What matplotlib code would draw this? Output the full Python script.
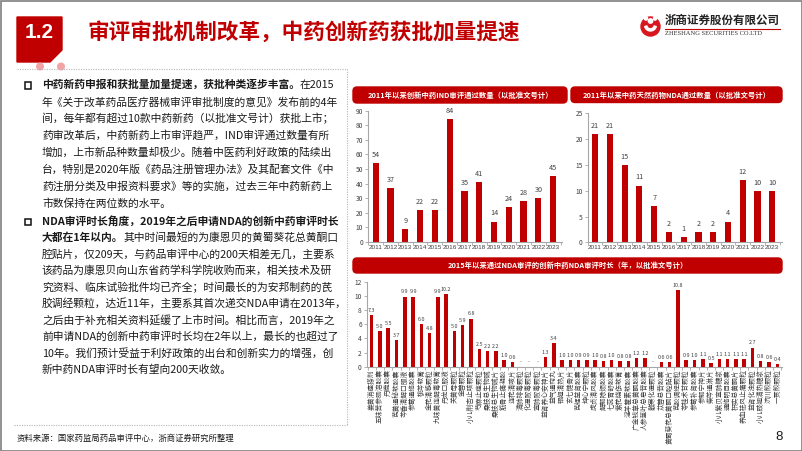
import numpy as np
import matplotlib
matplotlib.use("Agg")
import matplotlib.pyplot as plt
from matplotlib.patches import Rectangle, Polygon, FancyBboxPatch, Circle, Wedge

plt.rcParams['font.family'] = ['Noto Sans CJK SC', 'DejaVu Sans']

RED = '#C00000'
TXT = '#1a1a1a'
GREY = '#404040'

# --- data ---
years = [str(y) for y in range(2011, 2024)]
ind_counts = [54, 37, 9, 22, 22, 84, 35, 41, 14, 24, 28, 30, 45]
nda_counts = [21, 21, 15, 11, 7, 2, 1, 2, 2, 4, 12, 10, 10]

drug_names = [
    '姜黄消痤搽剂', '五味苦参肠溶胶囊', '丹鹿胶囊', '芪黄通秘软胶囊', '芩香清解口服液',
    '参葛通络胶囊', '桃芩软膏', '金花清感颗粒', '九味黄连解毒软膏', '丹龙口服液',
    '关黄母颗粒', '金蓉颗粒', '小儿荆杏止咳颗粒', '芍麻止痉颗粒', '桑枝总生物碱',
    '桑枝总生物碱片', '筋骨止痛凝胶', '连花清咳片', '清肺排毒颗粒', '化湿败毒颗粒',
    '宣肺败毒颗粒', '益肾养心安神片', '益气通窍丸', '银翘清热片', '玄七健骨片',
    '芪蛭益肾胶囊', '坤心宁颗粒', '虎贞清风胶囊', '解郁除烦胶囊', '七蕊胃舒胶囊',
    '紫花烧伤软膏', '淫羊藿素软胶囊', '广金钱草总黄酮胶囊', '人参茎叶总皂苷胶囊', '散寒化湿颗粒',
    '苁蓉总苷胶囊', '黄蜀葵花总黄酮口腔贴片', '芪胶调经颗粒', '苓桂术甘颗粒', '参葛补肾胶囊',
    '参郁宁神片', '柴芩通淋片', '小儿紫贝宣肺糖浆', '通络明目胶囊', '枳实总黄酮片',
    '养血祛风止痛颗粒', '益肾化浊颗粒', '小儿豉翘清热糖浆', '济川煎颗粒', '一贯煎颗粒',
]
review_years = [
    7.3, 5.0, 5.5, 3.7, 9.9, 9.9, 6.0, 4.8, 9.9, 10.2,
    5.0, 5.9, 6.8, 2.5, 2.2, 2.2, 1.0, 0.6, None, None,
    None, 1.3, 3.4, 1.0, 1.0, 0.9, 0.9, 1.0, 0.8, 1.0,
    0.8, 0.8, 1.2, 1.2, None, 0.6, 0.6, 10.8, 0.9, 1.0,
    1.1, 0.5, 1.1, 1.1, 1.1, 1.1, 2.7, 0.8, 0.6, 0.4,
]

para1 = [
    [('中药新药申报和获批量加量提速，获批种类逐步丰富。', True), ('在2015', False)],
    [('年《关于改革药品医疗器械审评审批制度的意见》发布前的4年', False)],
    [('间，每年都有超过10款中药新药（以批准文号计）获批上市；', False)],
    [('药审改革后，中药新药上市审评趋严，IND审评通过数量有所', False)],
    [('增加，上市新品种数量却极少。随着中医药利好政策的陆续出', False)],
    [('台，特别是2020年版《药品注册管理办法》及其配套文件《中', False)],
    [('药注册分类及申报资料要求》等的实施，过去三年中药新药上', False)],
    [('市数保持在两位数的水平。', False)],
]
para2 = [
    [('NDA审评时长角度，2019年之后申请NDA的创新中药审评时长', True)],
    [('大都在1年以内。', True), ('其中时间最短的为康恩贝的黄蜀葵花总黄酮口', False)],
    [('腔贴片，仅209天，与药品审评中心的200天相差无几，主要系', False)],
    [('该药品为康恩贝向山东省药学科学院收购而来，相关技术及研', False)],
    [('究资料、临床试验批件均已齐全；时间最长的为安邦制药的芪', False)],
    [('胶调经颗粒，达近11年，主要系其首次递交NDA申请在2013年，', False)],
    [('之后由于补充相关资料延缓了上市时间。相比而言，2019年之', False)],
    [('前申请NDA的创新中药审评时长均在2年以上，最长的也超过了', False)],
    [('10年。我们预计受益于利好政策的出台和创新实力的增强，创', False)],
    [('新中药NDA审评时长有望向200天收敛。', False)],
]

W, H = 802, 451
fig = plt.figure(figsize=(W / 100, H / 100), dpi=100)
bg = fig.add_axes([0, 0, 1, 1], zorder=0)
bg.set_xlim(0, W)
bg.set_ylim(H, 0)
bg.axis('off')
renderer = fig.canvas.get_renderer()


def px_axes(x0, y0, x1, y1):
    return fig.add_axes([x0 / W, 1 - y1 / H, (x1 - x0) / W, (y1 - y0) / H], zorder=2)


# slide frame
bg.add_patch(Rectangle((0.5, 0.5), W - 1, H - 1, fill=False, ec='#7f7f7f', lw=1.2))

# section tag + title
bg.add_patch(Polygon([(17, 17), (62, 17), (62, 50), (50, 62), (17, 62)], closed=True, color=RED))
bg.text(39.5, 32, '1.2', color='white', fontsize=15, fontweight='bold',
        family='Liberation Sans', ha='center', va='center')
bg.text(87, 32, '审评审批机制改革，中药创新药获批加量提速', color=RED, fontsize=15.6,
        fontweight='bold', ha='left', va='center')

# logo
bg.add_patch(Circle((650.5, 26.5), 9.5, color='#D7161F'))
bg.add_patch(Wedge((650.5, 25), 6, 15, 165, width=2.2, color='white'))
bg.add_patch(Circle((650.5, 21), 2.2, color='white'))
bg.add_patch(Circle((646, 18.5), 1.6, color='white'))
bg.add_patch(Circle((655, 18.5), 1.6, color='white'))
bg.text(665, 20, '浙商证券股份有限公司', fontsize=8.3, fontweight='bold', color='#222222',
        ha='left', va='center')
bg.plot([665, 780], [28.7, 28.7], color=RED, lw=0.8)
bg.text(665, 33.6, 'ZHESHANG SECURITIES CO.LTD', fontsize=4.7, family='Liberation Serif',
        color='#333333', ha='left', va='center')

# dotted text box
dot = dict(color='#b5b5b5', lw=0.8, ls=(0, (1, 1.2)))
bg.plot([17, 347], [68.5, 68.5], **dot)
bg.plot([347, 347], [68.5, 425], **dot)
bg.plot([14, 347], [425, 425], **dot)
for cx in (40, 61):
    bg.add_patch(Circle((cx, 66.5), 3.3, color='#F3A3A6'))


def rich_line(x, y, parts, size=7.75):
    for s, bold in parts:
        t = bg.text(x, y, s, fontsize=size, fontweight='bold' if bold else 'normal',
                    color=TXT, ha='left', va='center')
        x += t.get_window_extent(renderer).width


for i, parts in enumerate(para1):
    rich_line(42, 85 + i * 16.9, parts)
for i, parts in enumerate(para2):
    rich_line(42, 221.7 + i * 16.4, parts)
for by in (85.5, 222):
    bg.add_patch(Rectangle((24.5, by - 3.2), 6.2, 6.2, fill=False, ec='#111111', lw=1.1))

# footer
bg.text(17, 438, '资料来源：国家药监局药品审评中心，浙商证券研究所整理', fontsize=6,
        color=TXT, ha='left', va='center')
bg.text(779, 437, '8', fontsize=9.5, family='Liberation Sans', color=TXT,
        ha='center', va='center')

# chart headers
head_specs = [
    ((353, 87, 567, 103), '2011年以来创新中药IND审评通过数量（以批准文号计）'),
    ((571, 87, 782, 102.5), '2011年以来中药天然药物NDA通过数量（以批准文号计）'),
    ((353, 258, 782, 273), '2015年以来通过NDA审评的创新中药NDA审评时长（年，以批准文号计）'),
]
for (x0, y0, x1, y1), label in head_specs:
    bg.add_patch(FancyBboxPatch((x0, y0), x1 - x0, y1 - y0,
                                boxstyle='round,pad=0,rounding_size=4', color=RED))
    bg.text((x0 + x1) / 2, (y0 + y1) / 2, label, color='white', fontsize=5.3,
            fontweight='bold', ha='center', va='center')


def bar_chart(rect, labels, values, ymax, ystep, xlim, fmt, tick_fs, xtick_fs, val_fs,
              rotate=False, val_off=3):
    ax = px_axes(*rect)
    ax.patch.set_alpha(0)
    x = np.arange(len(values))
    heights = [0 if v is None else v for v in values]
    ax.bar(x, heights, width=0.42, color=RED, zorder=2)
    for xi, v in zip(x, values):
        txt = '-' if v is None else fmt.format(v)
        ax.annotate(txt, (xi, 0 if v is None else v), xytext=(0, val_off),
                    textcoords='offset points', ha='center', va='bottom',
                    fontsize=val_fs, color=GREY)
    ax.set_xlim(*xlim)
    ax.set_ylim(0, ymax)
    ax.set_yticks(np.arange(0, ymax + 0.01, ystep))
    for s in ('top', 'right'):
        ax.spines[s].set_visible(False)
    for s in ('left', 'bottom'):
        ax.spines[s].set_color('#a6a6a6')
        ax.spines[s].set_linewidth(0.8)
    ax.tick_params(axis='y', length=2, width=0.6, color='#a6a6a6', labelsize=tick_fs,
                   labelcolor=GREY, pad=1.5)
    ax.set_xticks(x)
    if rotate:
        ax.set_xticklabels(labels, rotation=90, ha='center', va='top')
    else:
        ax.set_xticklabels(labels, family='Liberation Sans')
    ax.tick_params(axis='x', length=0, labelsize=xtick_fs, labelcolor=GREY, pad=2)
    ax.set_xticks(np.arange(len(values) + 1) - 0.5, minor=True)
    ax.tick_params(axis='x', which='minor', length=2, width=0.6, color='#a6a6a6')
    return ax


bar_chart((368, 110.7, 562, 242), years, ind_counts, 90, 10, (-0.52, 12.6),
          '{:d}', 4.8, 4.6, 5.2)
bar_chart((587.7, 113.3, 781.7, 242.3), years, nda_counts, 25, 5, (-0.49, 12.64),
          '{:d}', 4.8, 4.6, 5.2)
bar_chart((366.7, 281.7, 782, 366.7), drug_names, review_years, 12, 2, (-0.6, 49.57),
          '{:.1f}', 4.8, 4.9, 3.9, rotate=True, val_off=1.5)

fig.savefig('out.png', dpi=100)
